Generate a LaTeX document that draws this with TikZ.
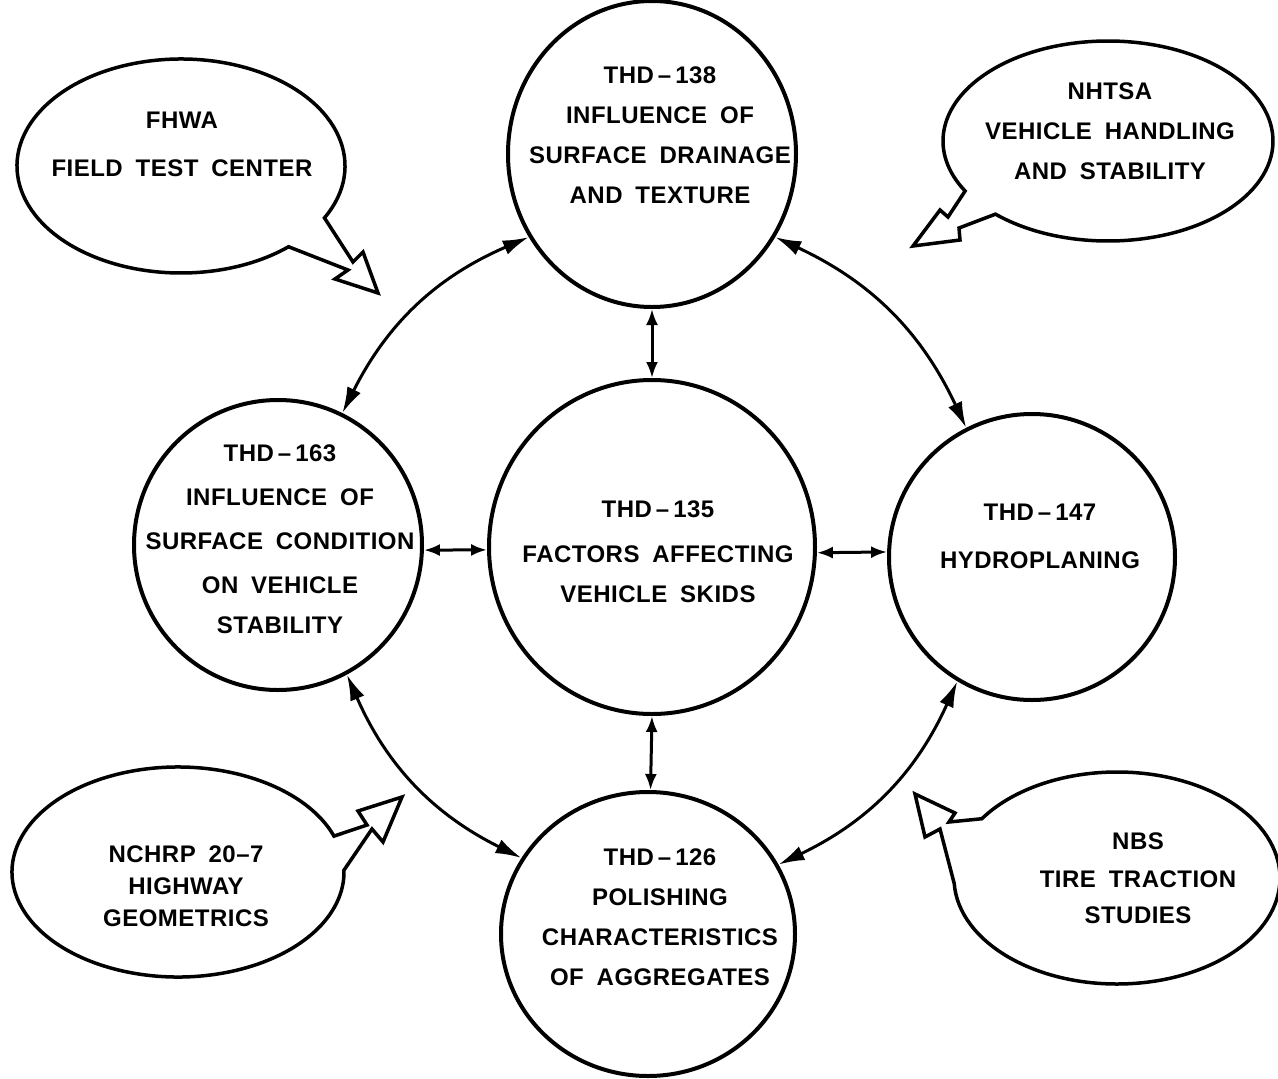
\documentclass[tikz,border=0pt]{standalone}
\usepackage{fontspec}
\setmainfont{Liberation Sans}[WordSpace=1.8,LetterSpace=2]
\usetikzlibrary{arrows.meta,shapes.geometric}

\begin{document}
\begin{tikzpicture}[x=1pt,y=1pt,
    study/.style={draw,ellipse,line width=4pt,inner sep=0pt},
    lbl/.style={align=center,font=\bfseries\fontsize{24}{40}\selectfont},
    bubble/.style={draw,line width=3.5pt,line join=miter},
    link/.style={line width=3pt,{Latex[length=26pt,width=15pt]}-{Latex[length=26pt,width=15pt]}},
    stub/.style={line width=3pt,{Latex[length=16pt,width=12pt]}-{Latex[length=16pt,width=12pt]}}]
    \useasboundingbox (0,0) rectangle (1278,-1079);

    % study circles
    \node[study,minimum width=288,minimum height=306] (t138) at (652,-154) {};
    \node[study,minimum width=326,minimum height=334] (t135) at (652,-547) {};
    \node[study,minimum width=288,minimum height=290] (t163) at (278,-545) {};
    \node[study,minimum width=286,minimum height=286] (t147) at (1032,-557) {};
    \node[study,minimum width=294,minimum height=284] (t126) at (648,-934) {};

    \node[lbl] (t138txt) at (660,-135) {THD\,--\,138\\INFLUENCE OF\\SURFACE DRAINAGE\\AND TEXTURE};
    \node[lbl] (t135txt) at (658,-552) {THD\,--\,135\\[5pt]FACTORS AFFECTING\\VEHICLE SKIDS};
    \node[lbl] (t163txt) at (280,-539) {THD\,--\,163\\[4pt]INFLUENCE OF\\[4pt]SURFACE CONDITION\\[4pt]ON VEHICLE\\STABILITY};
    \node[lbl] (t147txt) at (1040,-536) {THD\,--\,147\\[8pt]HYDROPLANING};
    \node[lbl] (t126txt) at (660,-917) {THD\,--\,126\\POLISHING\\CHARACTERISTICS\\OF AGGREGATES};

    % links between studies
    \draw[stub] (t138.south) -- (t135.north);
    \draw[stub] (t135.-90.5) -- (t126.89);
    \draw[stub] (t163.-2) -- (t135.181);
    \draw[stub] (t135.-2) -- (t147.178);
    \draw[link] (t163.64) to[bend left=20] (t138.214);
    \draw[link] (t138.-34) to[bend left=20] (t147.117);
    \draw[link] (t163.-62) to[bend right=20] (t126.149);
    \draw[link] (t147.239) to[bend left=20] (t126.28);

    % outside agencies
    \draw[bubble] (181,-166) ++(-29:164 and 107) arc[start angle=-29,end angle=311,x radius=164,y radius=107]
        -- (348,-270) -- (335,-279) -- (378,-293) -- (363,-252) -- (353,-262) -- cycle;
    \node[lbl] (fhwa) at (182,-144) {FHWA\\[8pt]FIELD TEST CENTER};

    \draw[bubble] (1108,-141) ++(227:165 and 100) arc[start angle=227,end angle=570,x radius=165,y radius=100]
        -- (948,-217) -- (940,-210) -- (913,-246) -- (960,-240) -- (959,-228) -- cycle;
    \node[lbl] (nhtsa) at (1110,-131) {NHTSA\\VEHICLE HANDLING\\AND STABILITY};

    \draw[bubble] (178,-872) ++(20:166 and 105) arc[start angle=20,end angle=361,x radius=166,y radius=105]
        -- (372,-829) -- (383,-842) -- (402,-797) -- (358,-811) -- (367,-825) -- cycle;
    \node[lbl] (nchrp) at (186,-886) {NCHRP 20--7\\[-8pt]HIGHWAY\\[-8pt]GEOMETRICS};

    \draw[bubble] (1117,-878) ++(183:163 and 106) arc[start angle=183,end angle=506,x radius=163,y radius=106]
        -- (949,-822) -- (955,-813) -- (915,-794) -- (925,-837) -- (940,-829) -- cycle;
    \node[lbl] (nbs) at (1138,-878) {NBS\\[-2pt]TIRE TRACTION\\[-4pt]STUDIES};
\end{tikzpicture}
\end{document}
